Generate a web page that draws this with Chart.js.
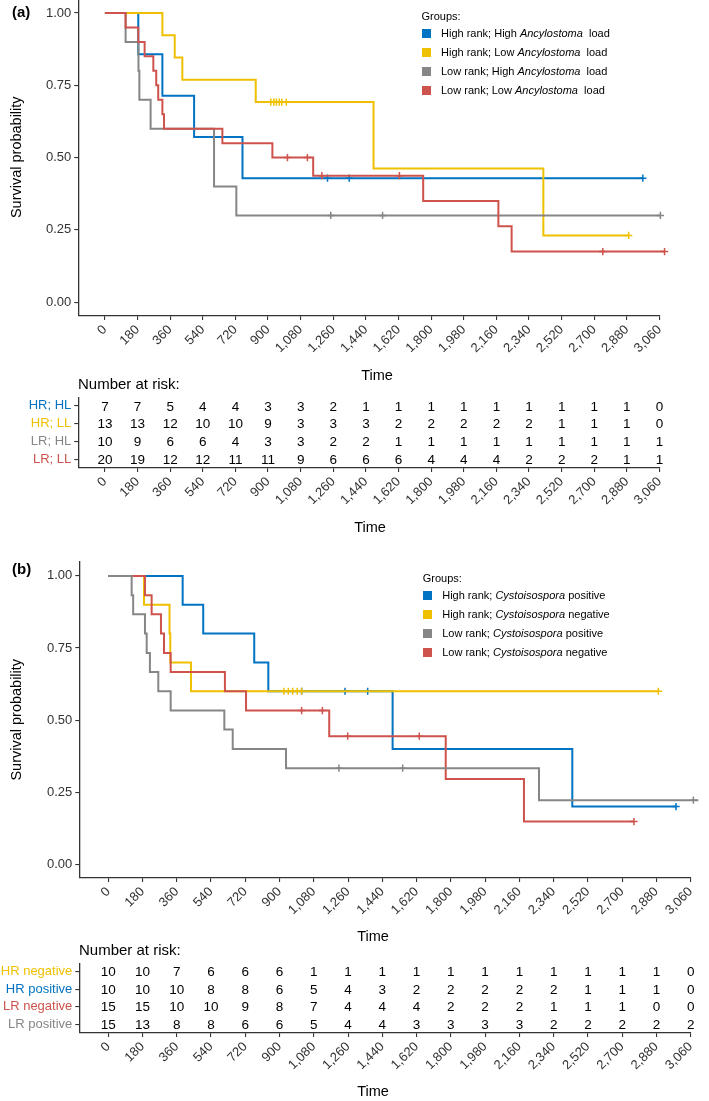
<!DOCTYPE html>
<html>
<head>
<meta charset="utf-8">
<script src="https://cdn.jsdelivr.net/npm/chart.js@4"></script>
<style>
  body { margin:0; background:#fff; width:709px; height:1101px; position:relative; overflow:hidden;
         font-family:"Liberation Sans", Arial, sans-serif; color:#000; }
  .box { position:absolute; left:0; width:709px; }
  .lab { position:absolute; white-space:pre; line-height:20px; height:20px; }
  .ttl { position:absolute; width:100px; margin-left:-50px; text-align:center; font-size:14.5px; line-height:20px; height:20px; }
  .row { position:absolute; height:19px; line-height:19px; font-size:11px; white-space:pre; }
  .sq { position:absolute; top:5px; width:9px; height:9px; }
</style>
</head>
<body>
<div class="box" style="top:-7px;height:391px"><canvas id="plotA"></canvas></div>
<div class="box" style="top:397px;height:139px"><canvas id="riskA"></canvas></div>
<div class="box" style="top:556px;height:389px"><canvas id="plotB"></canvas></div>
<div class="box" style="top:963px;height:138px"><canvas id="riskB"></canvas></div>

<div class="lab" style="left:12px;top:2px;font-size:15px;font-weight:bold">(a)</div>
<div class="lab" style="left:12px;top:559px;font-size:15px;font-weight:bold">(b)</div>
<div class="lab" style="left:78px;top:374px;font-size:15px">Number at risk:</div>
<div class="lab" style="left:79px;top:940px;font-size:15px">Number at risk:</div>
<div class="ttl" style="left:377px;top:365px">Time</div>
<div class="ttl" style="left:370px;top:517px">Time</div>
<div class="ttl" style="left:373px;top:926px">Time</div>
<div class="ttl" style="left:373px;top:1081px">Time</div>
<div id="legA"></div>
<div id="legB"></div>

<script>
Chart.defaults.font.family = '"Liberation Sans", Arial, sans-serif';
Chart.defaults.color = '#333';

// shared axes
var timeTicks = [0,180,360,540,720,900,1080,1260,1440,1620,1800,1980,2160,2340,2520,2700,2880,3060];
var probTicks = [0, 0.25, 0.5, 0.75, 1];
var groupColors = ['#0073C2', '#EFC000', '#868686', '#CD534C']; // blue, yellow, gray, red

// ---- panel (a): rank x Ancylostoma load ----
var aBlueT = [0, 184, 317, 492, 759, 2968];
var aBlueS = [1, 0.857, 0.714, 0.571, 0.429, 0.429];
var aBlueCens = [1228, 1348, 2968];

var aYellowT = [0, 317, 385, 427, 832, 1482, 2419, 2890];
var aYellowS = [1, 0.923, 0.846, 0.769, 0.692, 0.462, 0.231, 0.231];
var aYellowCens = [915, 932, 946, 962, 976, 1001, 2890];

var aGrayT = [0, 114, 185, 190, 252, 602, 725, 3065];
var aGrayS = [1, 0.9, 0.8, 0.7, 0.6, 0.4, 0.3, 0.3];
var aGrayCens = [1246, 1532, 3065];

var aRedT = [0, 114, 184, 219, 267, 283, 294, 317, 326, 648, 924, 1149, 1756, 2171, 2244, 3088];
var aRedS = [1, 0.95, 0.9, 0.85, 0.8, 0.75, 0.7, 0.65, 0.6, 0.55, 0.5, 0.4375, 0.35, 0.2625, 0.175, 0.175];
var aRedCens = [1007, 1117, 1197, 1625, 2747, 3088];

var aLegend = [['High rank; High ', 'Ancylostoma', '  load'],
               ['High rank; Low ', 'Ancylostoma', '  load'],
               ['Low rank; High ', 'Ancylostoma', '  load'],
               ['Low rank; Low ', 'Ancylostoma', '  load']];

var aRiskLabels = ['HR; HL', 'HR; LL', 'LR; HL', 'LR; LL'];
var aRiskHRHL = [7,7,5,4,4,3,3,2,1,1,1,1,1,1,1,1,1,0];
var aRiskHRLL = [13,13,12,10,10,9,3,3,3,2,2,2,2,2,1,1,1,0];
var aRiskLRHL = [10,9,6,6,4,3,3,2,2,1,1,1,1,1,1,1,1,1];
var aRiskLRLL = [20,19,12,12,11,11,9,6,6,6,4,4,4,2,2,2,1,1];

// ---- panel (b): rank x Cystoisospora ----
var bBlueT = [0, 391, 499, 767, 841, 1494, 2438, 2983];
var bBlueS = [1, 0.9, 0.8, 0.7, 0.6, 0.4, 0.2, 0.2];
var bBlueCens = [1016, 1244, 1363, 2983];

var bYellowT = [0, 188, 322, 326, 435, 2890];
var bYellowS = [1, 0.9, 0.8, 0.7, 0.6, 0.6];
var bYellowCens = [923, 946, 969, 993, 1016, 2890];

var bGrayT = [0, 123, 131, 193, 202, 219, 263, 328, 610, 654, 934, 2263, 3100];
var bGrayS = [1, 0.933, 0.867, 0.8, 0.733, 0.667, 0.6, 0.533, 0.467, 0.4, 0.333, 0.222, 0.222];
var bGrayCens = [1212, 1547, 3074, 3100];

var bRedT = [0, 193, 228, 277, 293, 328, 613, 724, 1161, 1773, 2184, 2762];
var bRedS = [1, 0.933, 0.867, 0.8, 0.733, 0.667, 0.6, 0.533, 0.444, 0.296, 0.148, 0.148];
var bRedCens = [1016, 1125, 1258, 1634, 2762];

var bLegend = [['High rank; ', 'Cystoisospora', ' positive'],
               ['High rank; ', 'Cystoisospora', ' negative'],
               ['Low rank; ', 'Cystoisospora', ' positive'],
               ['Low rank; ', 'Cystoisospora', ' negative']];

var bRiskLabels = ['HR negative', 'HR positive', 'LR negative', 'LR positive'];
var bRiskHRneg = [10,10,7,6,6,6,1,1,1,1,1,1,1,1,1,1,1,0];
var bRiskHRpos = [10,10,10,8,8,6,5,4,3,2,2,2,2,2,1,1,1,0];
var bRiskLRneg = [15,15,10,10,9,8,7,4,4,4,2,2,2,1,1,1,0,0];
var bRiskLRpos = [15,13,8,8,6,6,5,4,4,3,3,3,3,2,2,2,2,2];

var axisFont = {size: 13};
var titleFont = {size: 14.5};

function survAt(ts, ss, t) { // value of the step curve at time t
  var s = ss[0];
  for (var i = 0; i < ts.length; i++) if (ts[i] <= t) s = ss[i];
  return s;
}

function xScale(min, max, h) {
  return {
    type: 'linear', min: min, max: max,
    afterBuildTicks: function (s) { s.ticks = timeTicks.map(function (v) { return {value: v}; }); },
    afterFit: function (s) { s.height = h; s.paddingLeft = 0; s.paddingRight = 0; },
    ticks: {autoSkip: false, minRotation: 45, maxRotation: 45, font: axisFont, color: '#333', padding: 2,
            callback: function (v) { return v.toLocaleString('en-US'); }},
    grid: {drawOnChartArea: false, drawTicks: true, tickLength: 4, color: '#333', lineWidth: 1.1},
    border: {color: '#333', width: 1.3}
  };
}

function kmChart(id, curves, ymin, ymax, xmin, yWidth, padRight, xh) {
  var datasets = [];
  curves.forEach(function (c) {
    datasets.push({
      data: c.t.map(function (t, k) { return {x: t, y: c.s[k]}; }),
      borderColor: c.color, borderWidth: 2, stepped: true, pointRadius: 0, fill: false, clip: false, order: c.order
    });
    datasets.push({
      data: c.cens.map(function (t) { return {x: t, y: survAt(c.t, c.s, t)}; }),
      showLine: false, pointStyle: 'cross', pointRadius: 3.6, borderColor: c.color, borderWidth: 1.5,
      clip: false, order: c.order
    });
  });
  return new Chart(document.getElementById(id), {
    type: 'line',
    data: {datasets: datasets},
    options: {
      responsive: true, maintainAspectRatio: false, animation: false, events: [],
      layout: {padding: {left: 0, right: padRight, top: 0, bottom: 0}},
      plugins: {legend: {display: false}, tooltip: {enabled: false}},
      scales: {
        x: xScale(xmin, 3060, xh),
        y: {
          type: 'linear', min: ymin, max: ymax,
          afterBuildTicks: function (s) { s.ticks = probTicks.map(function (v) { return {value: v}; }); },
          afterFit: function (s) { s.width = yWidth; s.paddingTop = 0; s.paddingBottom = 0; },
          ticks: {font: axisFont, color: '#333', padding: 3, callback: function (v) { return v.toFixed(2); }},
          grid: {drawOnChartArea: false, drawTicks: true, tickLength: 4, color: '#333', lineWidth: 1.1},
          border: {color: '#333', width: 1.3},
          title: {display: true, text: 'Survival probability', font: titleFont, color: '#000', padding: {top: 8, bottom: 0}}
        }
      }
    }
  });
}

var riskNumbers = {
  id: 'riskNumbers',
  afterDatasetsDraw: function (chart) {
    var ctx = chart.ctx;
    ctx.save();
    ctx.font = '13.5px "Liberation Sans", Arial, sans-serif';
    ctx.fillStyle = '#000';
    ctx.textAlign = 'center';
    ctx.textBaseline = 'middle';
    chart.data.datasets.forEach(function (ds, i) {
      chart.getDatasetMeta(i).data.forEach(function (el, k) { ctx.fillText(String(ds.data[k].n), el.x, el.y + 1); });
    });
    ctx.restore();
  }
};

function riskChart(id, labels, rows, colors, xmin, yWidth, padRight, xh) {
  var datasets = rows.map(function (r, i) {
    return {data: timeTicks.map(function (t, k) { return {x: t, y: labels[i], n: r[k]}; }), showLine: false, pointRadius: 0};
  });
  return new Chart(document.getElementById(id), {
    type: 'line',
    data: {datasets: datasets},
    plugins: [riskNumbers],
    options: {
      responsive: true, maintainAspectRatio: false, animation: false, events: [],
      layout: {padding: {left: 0, right: padRight, top: 0, bottom: 0}},
      plugins: {legend: {display: false}, tooltip: {enabled: false}},
      scales: {
        x: xScale(xmin, 3060, xh),
        y: {
          type: 'category', labels: labels, offset: true,
          afterFit: function (s) { s.width = yWidth; s.paddingTop = 0; s.paddingBottom = 0; },
          ticks: {autoSkip: false, font: {size: 13}, padding: 3, color: function (c) { return colors[c.index]; }},
          grid: {offset: false, drawOnChartArea: false, drawTicks: true, tickLength: 4, color: '#333', lineWidth: 1.1},
          border: {color: '#333', width: 1.3}
        }
      }
    }
  });
}

function htmlLegend(id, items, colors, left, top) {
  var el = document.getElementById(id);
  var html = '<div class="row" style="left:' + left + 'px;top:' + (top - 9.5) + 'px">Groups:</div>';
  items.forEach(function (it, i) {
    var y = top + 17.5 + i * 19 - 9.5;
    html += '<div class="row" style="left:' + left + 'px;top:' + y + 'px;width:260px">' +
      '<span class="sq" style="left:0;background:' + colors[i] + '"></span>' +
      '<span style="position:absolute;left:19.5px">' + it[0] + '<i>' + it[1] + '</i>' + it[2] + '</span></div>';
  });
  el.innerHTML = html;
}

var C = groupColors;
kmChart('plotA', [
  {t: aBlueT, s: aBlueS, cens: aBlueCens, color: C[0], order: 3},
  {t: aYellowT, s: aYellowS, cens: aYellowCens, color: C[1], order: 2},
  {t: aGrayT, s: aGrayS, cens: aGrayCens, color: C[2], order: 1},
  {t: aRedT, s: aRedS, cens: aRedCens, color: C[3], order: 0}
], -0.0476, 1.05, -147, 78.3, 49.5, 68);

riskChart('riskA', aRiskLabels, [aRiskHRHL, aRiskHRLL, aRiskLRHL, aRiskLRLL],
  [C[0], C[1], C[2], C[3]], -147, 78.3, 49.5, 68);

kmChart('plotB', [
  {t: bBlueT, s: bBlueS, cens: bBlueCens, color: C[0], order: 3},
  {t: bYellowT, s: bYellowS, cens: bYellowCens, color: C[1], order: 2},
  {t: bRedT, s: bRedS, cens: bRedCens, color: C[3], order: 1},
  {t: bGrayT, s: bGrayS, cens: bGrayCens, color: C[2], order: 0}
], -0.0478, 1.05, -152, 79.3, 18.3, 67);

riskChart('riskB', bRiskLabels, [bRiskHRneg, bRiskHRpos, bRiskLRneg, bRiskLRpos],
  [C[1], C[0], C[3], C[2]], -152, 79.3, 18.3, 68);

htmlLegend('legA', aLegend, groupColors, 421.5, 16);
htmlLegend('legB', bLegend, groupColors, 422.7, 578.3);
</script>
</body>
</html>
